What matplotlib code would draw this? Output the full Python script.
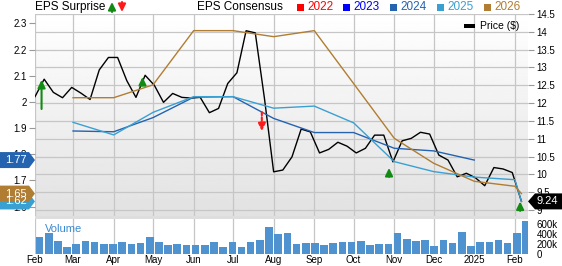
#!/usr/bin/env python

import matplotlib
matplotlib.use("Agg")
import matplotlib.pyplot as plt
import matplotlib.transforms as mtransforms
from matplotlib.patches import Polygon, Rectangle, FancyArrowPatch
import numpy as np
import pandas as pd

plt.rcParams["font.family"] = ["Liberation Sans", "DejaVu Sans"]

# weekly closing price and volume (thousands), Feb 2024 - Feb 2025
week_dates = pd.date_range("2024-02-01", periods=54, freq="7D")
price = [12.18, 12.67, 12.30, 12.15, 12.44, 12.28, 12.10, 12.93, 13.28, 13.28,
         12.63, 12.16, 12.78, 12.50, 12.02, 12.27, 12.16, 12.14, 12.16, 11.73,
         11.85, 12.55, 12.85, 14.03, 13.97, 12.13, 10.07, 10.12, 10.49, 11.27,
         11.19, 10.60, 10.70, 10.90, 10.79, 10.60, 10.73, 11.10, 11.10, 10.35,
         10.94, 11.01, 11.18, 11.13, 10.54, 10.40, 9.93, 10.03, 9.90, 9.68,
         10.19, 10.15, 10.05, 9.24]
volume_k = [340, 420, 265, 143, 210, 257, 245, 210, 210, 235,
            200, 230, 350, 240, 185, 205, 175, 190, 190, 245,
            150, 240, 150, 245, 280, 550, 400, 420, 200, 230,
            220, 185, 230, 250, 240, 255, 190, 195, 210, 430,
            300, 255, 290, 160, 275, 230, 440, 160, 240, 250,
            280, 225, 415, 660]

# monthly EPS consensus by fiscal year
cons_dates = pd.to_datetime(["2024-03-01", "2024-04-01", "2024-05-01", "2024-06-01",
                             "2024-07-01", "2024-08-01", "2024-09-01", "2024-10-01",
                             "2024-11-01", "2024-12-01", "2025-01-01", "2025-02-01",
                             "2025-02-06"])
eps_2024 = [1.889, 1.886, 1.940, 2.018, 2.020, 1.937, 1.883, 1.883, 1.823, 1.813, 1.778]
eps_2025 = [1.922, 1.874, 1.960, 2.020, 2.020, 1.976, 1.984, 1.920, 1.772, 1.734,
            1.713, 1.703, 1.620]
eps_2026 = [2.016, 2.016, 2.065, 2.272, 2.272, 2.249, 2.272, 2.070, 1.861, 1.766,
            1.697, 1.678, 1.650]

# EPS surprises
surprise_dates = pd.to_datetime(["2024-02-06", "2024-04-23", "2024-07-23",
                                 "2024-10-28", "2025-02-05"])
surprise_tip = [2.084, 2.095, 1.889, 1.748, 1.620]
surprise_tail = [1.973, 2.066, 1.961, 1.714, 1.584]
surprise_beat = [True, True, False, True, True]

month_dates = pd.date_range("2024-02-01", periods=13, freq="MS")
month_labels = ["Feb", "Mar", "Apr", "May", "Jun", "Jul", "Aug", "Sep", "Oct",
                "Nov", "Dec", "2025", "Feb"]

years = ["2022", "2023", "2024", "2025", "2026"]
year_colors = ["#ff0000", "#0000ff", "#2463b0", "#3aa0d2", "#b07d32"]

W, H = 562, 266
fig = plt.figure(figsize=(W / 100, H / 100), dpi=100)
ax = fig.add_axes([35 / W, 1 - 216 / H, 493 / W, 202 / H])
ax2 = ax.twinx()
axv = fig.add_axes([35 / W, 1 - 254 / H, 493 / W, 35 / H], sharex=ax)

# gray-to-white background
grad = np.linspace(0.885, 1.0, 100).reshape(-1, 1)
ax.imshow(grad, cmap="gray", vmin=0, vmax=1, extent=[0, 1, 1, 0],
          transform=ax.transAxes, aspect="auto", zorder=0)

ax.plot(week_dates, price, color="black", lw=1.0, zorder=3)
ax.set_ylim(8.83, 14.5)
ax.set_yticks(np.arange(9, 14.6, 0.5))
ax.set_yticklabels(["9", "9.5", "10", "10.5", "11", "11.5", "12", "12.5", "13",
                    "13.5", "14", "14.5"])
ax.yaxis.tick_right()
ax.grid(True, color="#c6c6c6", lw=0.9)
ax.set_axisbelow(True)

ax2.plot(cons_dates[:len(eps_2024)], eps_2024, color=year_colors[2], lw=1.0)
ax2.plot(cons_dates, eps_2025, color=year_colors[3], lw=1.0)
ax2.plot(cons_dates, eps_2026, color=year_colors[4], lw=1.0)
ax2.set_ylim(1.5645, 2.3355)
ax2.set_yticks([1.6, 1.7, 1.8, 1.9, 2.0, 2.1, 2.2, 2.3])
ax2.set_yticklabels(["1.6", "1.7", "1.8", "1.9", "2", "2.1", "2.2", "2.3"])
ax2.yaxis.tick_left()

arrow_style = "-|>,head_length=0.45,head_width=0.22"
for d, tip, tail, beat in zip(surprise_dates, surprise_tip, surprise_tail, surprise_beat):
    col = "#138a13" if beat else "#ff1a1a"
    ls = "-" if beat else (0, (1.5, 1))
    ax2.annotate("", xy=(d, tip), xytext=(d, tail),
                 arrowprops=dict(arrowstyle=arrow_style, color=col, lw=1.5,
                                 ls=ls, shrinkA=0, shrinkB=0))

axv.bar(week_dates + pd.Timedelta(days=3.5), volume_k, width=5.8, color="#4e93cf")
axv.set_ylim(0, 700)
axv.set_yticks([0, 200, 400, 600])
axv.set_yticklabels(["0", "200k", "400k", "600k"])
axv.yaxis.tick_right()
axv.grid(True, axis="x", color="#c6c6c6", lw=0.9)
axv.set_axisbelow(True)
axv.text(0.02, 0.72, "Volume", transform=axv.transAxes, color="#3a8ad0",
         fontsize=8, va="center")

ax.set_xlim(pd.Timestamp("2024-02-01"), pd.Timestamp("2025-02-11"))
axv.set_xticks(month_dates)
axv.set_xticklabels(month_labels)
ax.tick_params(axis="x", labelbottom=False, length=0)

for a in (ax, ax2, axv):
    for s in a.spines.values():
        s.set_visible(False)
    a.tick_params(axis="y", labelsize=7, length=4, color="#999999", pad=2)
axv.tick_params(axis="x", labelsize=7, length=0, pad=0.5)
axv.tick_params(axis="y", length=0, pad=6)

# separator between price and volume panels
fig.add_artist(Rectangle((35 / W, 1 - 219 / H), 493 / W, 3 / H,
                         transform=fig.transFigure, color="#dedede", lw=0))


def value_tag(axis, value, text, color, side):
    blend = mtransforms.blended_transform_factory(axis.transAxes, axis.transData)
    if side == "left":
        shift = mtransforms.ScaledTranslation(0, value, blend)
        verts = np.array([(-35, -8), (-6, -8), (0, 0), (-6, 8), (-35, 8)]) / 100
        tx = -19
    else:
        shift = mtransforms.ScaledTranslation(1, value, blend)
        verts = np.array([(0, 0), (7, -8), (34, -8), (34, 8), (7, 8)]) / 100
        tx = 19
    fig.add_artist(Polygon(verts, closed=True, color=color, lw=0,
                           transform=fig.dpi_scale_trans + shift))
    fig.text(tx / 100, 0, text, color="white", fontsize=8, ha="center",
             va="center", transform=fig.dpi_scale_trans + shift, zorder=5)


value_tag(ax2, eps_2025[-1], "1.62", year_colors[3], "left")
value_tag(ax2, eps_2026[-1], "1.65", year_colors[4], "left")
value_tag(ax2, eps_2024[-1], "1.77", year_colors[2], "left")
value_tag(ax, price[-1], "9.24", "black", "right")

# header legend
hy = 1 - 7 / H
fig.text(35 / W, hy, "EPS Surprise", fontsize=8.5, va="center")
fig.add_artist(FancyArrowPatch((112 / W, 1 - 12 / H), (112 / W, 1 - 2 / H),
                               transform=fig.transFigure, arrowstyle=arrow_style,
                               color="#138a13", lw=1.5, mutation_scale=10,
                               shrinkA=0, shrinkB=0))
fig.add_artist(FancyArrowPatch((122 / W, 1 - 2 / H), (122 / W, 1 - 12 / H),
                               transform=fig.transFigure, arrowstyle=arrow_style,
                               color="#ff1a1a", lw=1.5, mutation_scale=10,
                               shrinkA=0, shrinkB=0))
fig.text(197 / W, hy, "EPS Consensus", fontsize=8.5, va="center")
sq_x = [297, 343, 390, 437, 484]
for x, yr, col in zip(sq_x, years, year_colors):
    fig.add_artist(Rectangle((x / W, 1 - 10.5 / H), 7 / W, 7 / H,
                             transform=fig.transFigure, color=col, lw=0))
    fig.text((x + 10) / W, hy, yr, color=col, fontsize=8.5, va="center")

# price legend inside plot
fig.add_artist(Rectangle((464 / W, 1 - 28 / H), 11 / W, 4 / H,
                         transform=fig.transFigure, color="black", lw=0))
fig.text(480 / W, 1 - 26 / H, "Price ($)", fontsize=7.5, va="center")

fig.savefig("out.png", dpi=100)
